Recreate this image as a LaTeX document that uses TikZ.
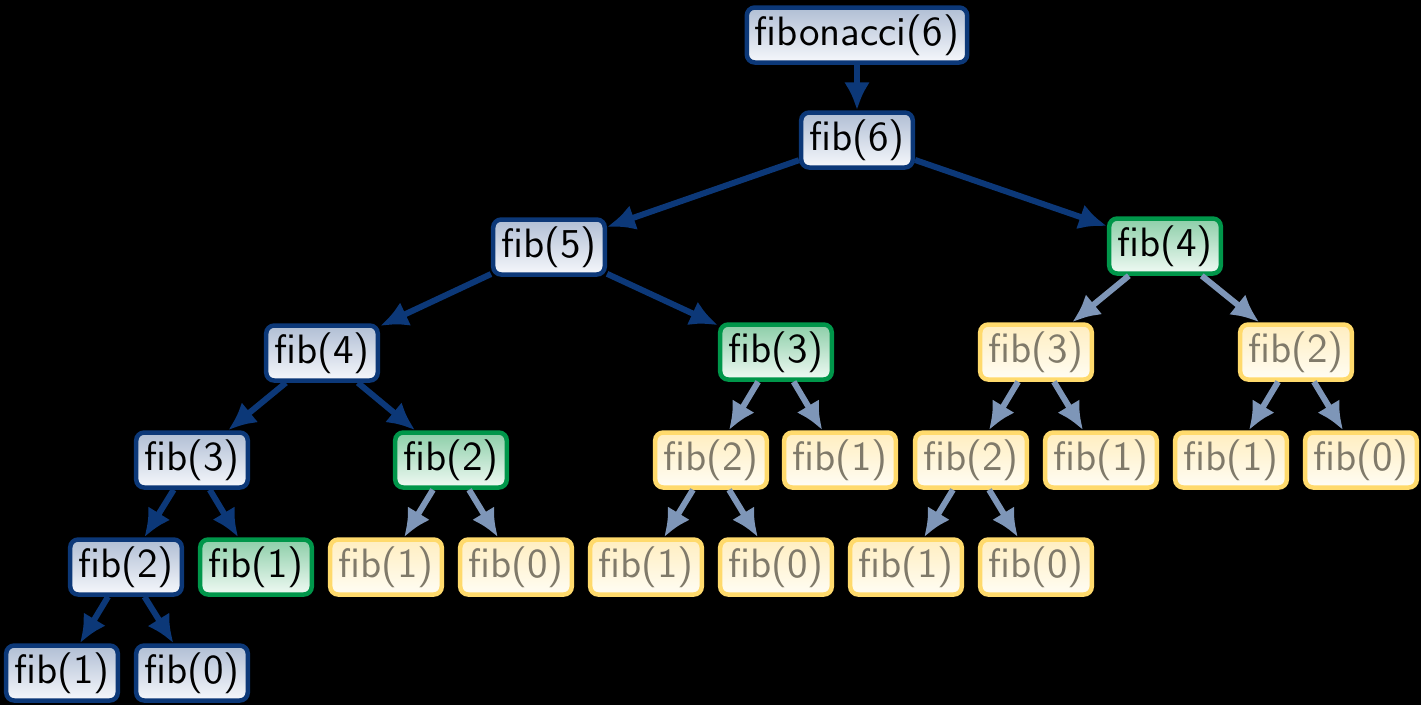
\documentclass[tikz,border=0pt]{standalone}
\usepackage{fontspec}
\newfontfamily\boxfont{lmsans10-regular}[Extension=.otf]
\usetikzlibrary{arrows.meta,shadings}
\definecolor{bblue}{RGB}{12,56,120}
\definecolor{btop}{RGB}{176,190,212}
\definecolor{bbot}{RGB}{246,248,252}
\definecolor{ggreen}{RGB}{0,150,74}
\definecolor{gtop}{RGB}{140,206,168}
\definecolor{gbot}{RGB}{240,250,244}
\definecolor{yborder}{RGB}{255,218,108}
\definecolor{ytop}{RGB}{255,238,192}
\definecolor{ybot}{RGB}{255,253,244}
\definecolor{ytext}{RGB}{128,122,106}
\definecolor{fadearrow}{RGB}{126,150,184}
\tikzset{
  box/.style={rounded corners=8pt, line width=4.5pt, minimum width=111pt, minimum height=55pt,
    inner xsep=8pt, inner ysep=2pt, font=\boxfont\fontsize{41}{46}\selectfont},
  bluebox/.style={box, draw=bblue, top color=btop, bottom color=bbot, text=black},
  greenbox/.style={box, draw=ggreen, top color=gtop, bottom color=gbot, text=black},
  yellowbox/.style={box, draw=yborder, top color=ytop, bottom color=ybot, text=ytext},
  arr/.style={line width=6pt, draw=bblue, -{Latex[length=28pt,width=26pt]}},
  farr/.style={line width=6pt, draw=fadearrow, -{Latex[length=28pt,width=26pt]}},
}
\begin{document}
\begin{tikzpicture}[x=1pt,y=-1pt]
\fill[black] (0,0) rectangle (1421,705);
\useasboundingbox (0,0) rectangle (1421,705);
% nodes
\node[bluebox] (top) at (857,35) {fibonacci(6)};
\node[bluebox] (f6) at (857,140) {fib(6)};
\node[bluebox] (f5) at (549,247) {fib(5)};
\node[greenbox] (f4g) at (1165,246) {fib(4)};
\node[bluebox] (f4b) at (322,353) {fib(4)};
\node[greenbox] (f3g) at (776,352) {fib(3)};
\node[yellowbox] (f3y) at (1036,352) {fib(3)};
\node[yellowbox] (f2ya) at (1296,352) {fib(2)};
\node[bluebox] (f3b) at (192,460) {fib(3)};
\node[greenbox] (f2g) at (451,460) {fib(2)};
\node[yellowbox] (f2yb) at (711,460) {fib(2)};
\node[yellowbox] (f1ya) at (840,460) {fib(1)};
\node[yellowbox] (f2yc) at (971,460) {fib(2)};
\node[yellowbox] (f1yb) at (1101,460) {fib(1)};
\node[yellowbox] (f1yc) at (1231,460) {fib(1)};
\node[yellowbox] (f0ya) at (1361,460) {fib(0)};
\node[bluebox] (f2b) at (126,567) {fib(2)};
\node[greenbox] (f1g) at (256,567) {fib(1)};
\node[yellowbox] (f1yd) at (386,567) {fib(1)};
\node[yellowbox] (f0yb) at (516,567) {fib(0)};
\node[yellowbox] (f1ye) at (646,567) {fib(1)};
\node[yellowbox] (f0yc) at (776,567) {fib(0)};
\node[yellowbox] (f1yf) at (906,567) {fib(1)};
\node[yellowbox] (f0yd) at (1036,567) {fib(0)};
\node[bluebox] (f1b) at (62,673) {fib(1)};
\node[bluebox] (f0b) at (192,673) {fib(0)};
% strong arrows
\draw[arr] (top) -- (f6);
\draw[arr] (f6) -- (f5);
\draw[arr] (f6) -- (f4g);
\draw[arr] (f5) -- (f4b);
\draw[arr] (f5) -- (f3g);
\draw[arr] (f4b) -- (f3b);
\draw[arr] (f4b) -- (f2g);
\draw[arr] (f3b) -- (f2b);
\draw[arr] (f3b) -- (f1g);
\draw[arr] (f2b) -- (f1b);
\draw[arr] (f2b) -- (f0b);
% faded arrows
\draw[farr] (f2g) -- (f1yd);
\draw[farr] (f2g) -- (f0yb);
\draw[farr] (f3g) -- (f2yb);
\draw[farr] (f3g) -- (f1ya);
\draw[farr] (f2yb) -- (f1ye);
\draw[farr] (f2yb) -- (f0yc);
\draw[farr] (f4g) -- (f3y);
\draw[farr] (f4g) -- (f2ya);
\draw[farr] (f3y) -- (f2yc);
\draw[farr] (f3y) -- (f1yb);
\draw[farr] (f2yc) -- (f1yf);
\draw[farr] (f2yc) -- (f0yd);
\draw[farr] (f2ya) -- (f1yc);
\draw[farr] (f2ya) -- (f0ya);
\end{tikzpicture}
\end{document}
